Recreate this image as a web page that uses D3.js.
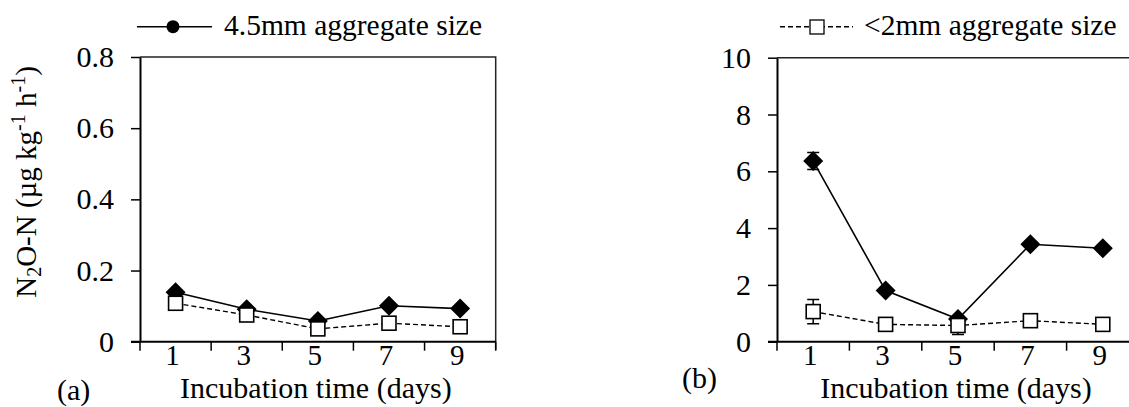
<!DOCTYPE html>
<html>
<head>
<meta charset="utf-8">
<script src="https://cdn.jsdelivr.net/npm/d3@7"></script>
<style>
  body { margin: 0; background: #fff; }
  text { font-family: "Liberation Serif", "Times New Roman", serif; fill: #000; }
</style>
</head>
<body>
<script>
var width = 1129;
var height = 407;

// incubation days (categories)
var days = [1, 3, 5, 7, 9];

// panel (a)
var aBig = [0.139, 0.091, 0.058, 0.101, 0.093];     // 4.5mm aggregate size
var aSmall = [0.108, 0.075, 0.036, 0.052, 0.042];   // <2mm aggregate size
var aBigErr = [0, 0, 0, 0, 0];
var aSmallErr = [0, 0, 0, 0, 0];
var aTicks = [0, 0.2, 0.4, 0.6, 0.8];

// panel (b)
var bBig = [6.36, 1.8, 0.8, 3.43, 3.29];
var bSmall = [1.06, 0.61, 0.57, 0.74, 0.61];
var bBigErr = [0.3, 0.1, 0.1, 0.1, 0.1];
var bSmallErr = [0.43, 0.22, 0.32, 0.05, 0.05];
var bTicks = [0, 2, 4, 6, 8, 10];

var svg = d3.select("body")
            .append("svg")
            .attr("width", width)
            .attr("height", height);

function drawPanel(opt) {
    var x = d3.scaleBand().domain(days).range([opt.x0, opt.x1]).padding(0);
    var y = d3.scaleLinear().domain([0, opt.ymax]).range([opt.y0, opt.y1]);
    var g = svg.append("g");

    // frame (top and right)
    g.append("path")
     .attr("d", "M" + opt.x0 + "," + opt.y1 + "H" + opt.x1 + "V" + (opt.y0 + 8))
     .attr("fill", "none")
     .attr("stroke", "#222")
     .attr("stroke-width", 1.5);

    // y axis
    var yAxis = g.append("g")
        .attr("transform", "translate(" + opt.x0 + ",0)")
        .call(d3.axisLeft(y).tickValues(opt.ticks).tickSize(9).tickSizeOuter(0).tickPadding(17)
              .tickFormat(opt.fmt));
    yAxis.select(".domain").attr("stroke", "#000").attr("stroke-width", 2);
    yAxis.selectAll(".tick line").attr("stroke-width", 1.5);
    yAxis.selectAll("text").attr("font-size", 30).attr("font-family", "Liberation Serif");

    // x axis: labels in band centres, ticks on band edges
    var xAxis = g.append("g")
        .attr("transform", "translate(0," + opt.y0 + ")")
        .call(d3.axisBottom(x).tickSize(0).tickSizeOuter(0).tickPadding(3));
    xAxis.select(".domain").remove();
    xAxis.selectAll("text").attr("font-size", 29).attr("font-family", "Liberation Serif")
         .attr("dx", -3);
    g.append("line")
     .attr("x1", opt.x0 - 9).attr("x2", opt.x1)
     .attr("y1", opt.y0).attr("y2", opt.y0)
     .attr("stroke", "#000").attr("stroke-width", 2);
    var edges = days.map(function(d) { return x(d); }).concat([opt.x1]);
    g.selectAll(".xedge").data(edges).enter().append("line")
     .attr("x1", function(d) { return d; }).attr("x2", function(d) { return d; })
     .attr("y1", opt.y0).attr("y2", opt.y0 + 9)
     .attr("stroke", "#000").attr("stroke-width", 1.5);

    var cx = function(i) { return x(days[i]) + x.bandwidth() / 2; };
    var line = d3.line().x(function(d, i) { return cx(i); }).y(function(d) { return y(d); });

    // error bars
    function errBars(vals, errs) {
        vals.forEach(function(v, i) {
            if (!errs[i]) return;
            var top = y(v + errs[i]), bot = y(v - errs[i]);
            g.append("path")
             .attr("d", "M" + cx(i) + "," + top + "V" + bot +
                        "M" + (cx(i) - 6) + "," + top + "h12" +
                        "M" + (cx(i) - 6) + "," + bot + "h12")
             .attr("stroke", "#000").attr("stroke-width", 1.5).attr("fill", "none");
        });
    }
    errBars(opt.big, opt.bigErr);
    errBars(opt.small, opt.smallErr);

    g.append("path").datum(opt.big).attr("d", line)
     .attr("fill", "none").attr("stroke", "#000").attr("stroke-width", 1.6);
    g.append("path").datum(opt.small).attr("d", line)
     .attr("fill", "none").attr("stroke", "#000").attr("stroke-width", 1.4)
     .attr("stroke-dasharray", "5,3");

    g.selectAll(".dia").data(opt.big).enter().append("path")
     .attr("d", "M0,-10L10,0L0,10L-10,0Z")
     .attr("transform", function(d, i) { return "translate(" + cx(i) + "," + y(d) + ")"; })
     .attr("fill", "#000");
    g.selectAll(".sq").data(opt.small).enter().append("rect")
     .attr("x", function(d, i) { return cx(i) - 7; })
     .attr("y", function(d) { return y(d) - 7; })
     .attr("width", 14).attr("height", 14)
     .attr("fill", "#fff").attr("stroke", "#000").attr("stroke-width", 1.6);

    // x title and panel letter
    g.append("text")
     .attr("x", (opt.x0 + opt.x1) / 2 - 2).attr("y", opt.titleY)
     .attr("text-anchor", "middle").attr("font-size", 30)
     .text("Incubation time (days)");
    g.append("text")
     .attr("x", opt.letterX).attr("y", opt.letterY)
     .attr("font-size", 30)
     .text(opt.letter);
}

drawPanel({
    x0: 140, x1: 495.7, y0: 341.7, y1: 57, ymax: 0.8, ticks: aTicks,
    fmt: function(d) { return d === 0 ? "0" : d.toFixed(1); },
    big: aBig, small: aSmall, bigErr: aBigErr, smallErr: aSmallErr,
    titleY: 398, letter: "(a)", letterX: 57, letterY: 400
});

drawPanel({
    x0: 777, x1: 1139, y0: 341.7, y1: 57.7, ymax: 10, ticks: bTicks,
    fmt: d3.format("d"),
    big: bBig, small: bSmall, bigErr: bBigErr, smallErr: bSmallErr,
    titleY: 398, letter: "(b)", letterX: 682, letterY: 388
});

// y axis title
var yt = svg.append("text")
    .attr("transform", "translate(36,182) rotate(-90)")
    .attr("text-anchor", "middle")
    .attr("font-size", 29);
yt.append("tspan").text("N");
yt.append("tspan").attr("font-size", 20).attr("dy", 5).text("2");
yt.append("tspan").attr("dy", -5).text("O-N (µg kg");
yt.append("tspan").attr("font-size", 20).attr("dy", -11).text("-1");
yt.append("tspan").attr("dy", 11).text(" h");
yt.append("tspan").attr("font-size", 20).attr("dy", -11).text("-1");
yt.append("tspan").attr("dy", 11).text(")");

// legends
var lg1 = svg.append("g");
lg1.append("line").attr("x1", 137).attr("x2", 212).attr("y1", 26.7).attr("y2", 26.7)
   .attr("stroke", "#000").attr("stroke-width", 1.6);
lg1.append("circle").attr("cx", 173).attr("cy", 26.7).attr("r", 6.5).attr("fill", "#000");
lg1.append("text").attr("x", 224).attr("y", 35).attr("font-size", 29.5).text("4.5mm aggregate size");

var lg2 = svg.append("g");
lg2.append("line").attr("x1", 780).attr("x2", 853).attr("y1", 26.7).attr("y2", 26.7)
   .attr("stroke", "#000").attr("stroke-width", 1.4).attr("stroke-dasharray", "5,3");
lg2.append("rect").attr("x", 810).attr("y", 20).attr("width", 14).attr("height", 14)
   .attr("fill", "#fff").attr("stroke", "#000").attr("stroke-width", 1.3);
lg2.append("text").attr("x", 864).attr("y", 35).attr("font-size", 29.5).text("<2mm aggregate size");
</script>
</body>
</html>
